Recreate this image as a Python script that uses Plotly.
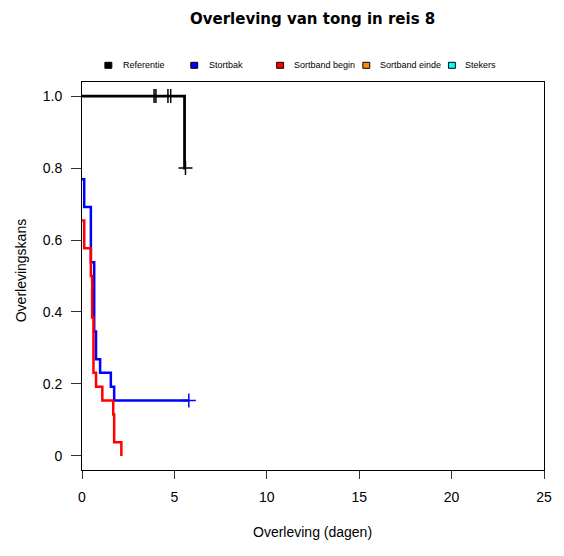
import plotly.graph_objects as go

# ---- data ----
ref_t = [0, 5.55, 5.6]
ref_s = [1.0, 0.8, 0.8]
ref_cens_t = [3.9, 4.0, 4.65, 4.8, 5.6]
ref_cens_s = [1.0, 1.0, 1.0, 1.0, 0.8]

stort_t = [0.0, 0.12, 0.48, 0.66, 0.76, 0.98, 1.56, 1.74, 5.78]
stort_s = [0.769, 0.692, 0.538, 0.346, 0.269, 0.231, 0.192, 0.154, 0.154]
stort_cens_t = [5.78]
stort_cens_s = [0.154]

sb_t = [0.0, 0.12, 0.48, 0.55, 0.62, 0.76, 1.1, 1.69, 1.74, 2.13]
sb_s = [0.654, 0.577, 0.5, 0.385, 0.231, 0.192, 0.154, 0.115, 0.038, 0.0]

legend_names = ["Referentie", "Stortbak", "Sortband begin", "Sortband einde", "Stekers"]
legend_colors = ["#000000", "#0000FF", "#FF0000", "#FF8C00", "#00FFFF"]

xticks = [0, 5, 10, 15, 20, 25]
yticks = [0, 0.2, 0.4, 0.6, 0.8, 1.0]
yticklabels = ["0", "0.2", "0.4", "0.6", "0.8", "1.0"]

title = "Overleving van tong in reis 8"
xtitle = "Overleving (dagen)"
ytitle = "Overlevingskans"

FONT = "Liberation Sans, Arial, sans-serif"
TFONT = "DejaVu Sans, Verdana, sans-serif"
W, H = 564, 556
L, R, T, B = 82, 550, 82, 470

def px(x):
    return (x - L) / (R - L)

def py(y):
    return (B - y) / (B - T)

fig = go.Figure()

def curve(t, s, color, width):
    fig.add_trace(go.Scatter(x=t, y=s, mode="lines", line=dict(color=color, width=width, shape="hv"),
                             showlegend=False, hoverinfo="skip"))

def cens(t, s, color):
    fig.add_trace(go.Scatter(x=t, y=s, mode="markers",
                             marker=dict(symbol="cross-thin", size=10, line=dict(color=color, width=1.5)),
                             showlegend=False, hoverinfo="skip"))

curve(ref_t, ref_s, legend_colors[0], 2.8)
cens(ref_cens_t, ref_cens_s, legend_colors[0])
curve(stort_t, stort_s, legend_colors[1], 2.5)
cens(stort_cens_t, stort_cens_s, legend_colors[1])
curve(sb_t, sb_s, legend_colors[2], 2.5)

# manual legend
sq_x = [108.7, 195.7, 282.7, 370, 456.7]
txt_x = [121.5, 208.3, 295, 381.7, 468.3]
ly = 65.3
for name, col, sx, tx in zip(legend_names, legend_colors, sq_x, txt_x):
    fig.add_shape(type="rect", xref="paper", yref="paper",
                  x0=px(sx - 3.5), x1=px(sx + 3.5), y0=py(ly + 3), y1=py(ly - 3),
                  fillcolor=col, line=dict(color="black", width=1))
    fig.add_annotation(x=px(tx), y=py(ly), xref="paper", yref="paper", text=name,
                       showarrow=False, xanchor="left", yanchor="middle",
                       font=dict(family=FONT, size=9, color="black"))

fig.add_annotation(x=px(315), y=py(19.5), xref="paper", yref="paper", text="<b>" + title + "</b>",
                   showarrow=False, xanchor="center", yanchor="middle",
                   font=dict(family=TFONT, size=15, color="black"))
fig.add_annotation(x=px(315), y=py(531.5), xref="paper", yref="paper", text=xtitle,
                   showarrow=False, xanchor="center", yanchor="middle",
                   font=dict(family=FONT, size=14, color="black"))
fig.add_annotation(x=px(20), y=py(270.5), xref="paper", yref="paper", text=ytitle, textangle=-90,
                   showarrow=False, xanchor="center", yanchor="middle",
                   font=dict(family=FONT, size=14, color="black"))

axis_common = dict(showgrid=False, zeroline=False, showline=True, linecolor="black", linewidth=1,
                   mirror=True, ticks="outside", tickcolor="#333", tickwidth=1,
                   tickfont=dict(family=FONT, size=14, color="black"))
fig.update_xaxes(range=[0, 25], tickvals=xticks, ticktext=[str(v) for v in xticks],
                 ticklen=8, ticklabelstandoff=6, **axis_common)
fig.update_yaxes(range=[-0.039, 1.039], tickvals=yticks, ticktext=yticklabels,
                 ticklen=10, ticklabelstandoff=6, **axis_common)

fig.update_layout(width=W, height=H, margin=dict(l=L, r=W - R, t=T, b=H - B),
                  paper_bgcolor="white", plot_bgcolor="white", showlegend=False)

fig.write_html("out.html")
